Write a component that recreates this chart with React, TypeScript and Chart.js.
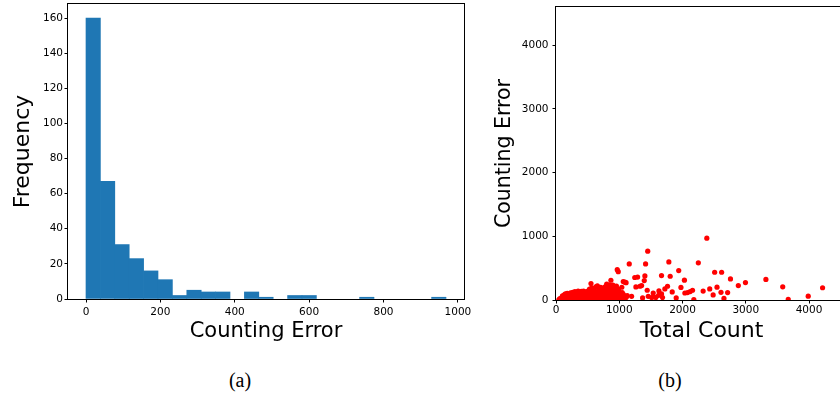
import React, { useEffect, useRef } from "react";
import { Chart, registerables } from "chart.js";

Chart.register(...registerables);

// ---- (a) histogram of counting error: 25 equal-width bins over [0, 968] ----
const HIST_MIN = 0;
const HIST_MAX = 968;
const histCounts = [160, 67, 31, 23, 16, 11, 2, 5, 4, 4, 0, 4, 1, 0, 2, 2, 0, 0, 0, 1, 0, 0, 0, 0, 1];
const histXTicks = [0, 200, 400, 600, 800, 1000];
const histYTicks = [0, 20, 40, 60, 80, 100, 120, 140, 160];

// ---- (b) counting error against total count, one point per image ----
const denseLow: [number, number][] = [
  [45, 4], [58, 18], [66, 6], [74, 27], [83, 11], [91, 36], [99, 3], [108, 21], [116, 45], [124, 8],
  [133, 30], [141, 52], [150, 14], [158, 38], [167, 4], [175, 57], [184, 24], [192, 9], [201, 43], [209, 28],
  [218, 2], [226, 50], [235, 17], [243, 35], [252, 6], [260, 58], [269, 22], [277, 41], [286, 10], [294, 30],
  [303, 52], [311, 3], [320, 26], [328, 45], [337, 13], [345, 33], [354, 55], [362, 7], [371, 20], [379, 48],
  [388, 31], [396, 2], [405, 40], [413, 15], [422, 57], [430, 25], [439, 8], [447, 36], [456, 50], [464, 18],
  [473, 4], [481, 29], [490, 46], [498, 12], [507, 58], [515, 35], [524, 21], [532, 5], [541, 42], [549, 27],
  [558, 54], [566, 10], [575, 33], [583, 48], [592, 3], [600, 22], [609, 40], [617, 15], [626, 56], [634, 28],
  [643, 6], [651, 44], [660, 19], [668, 34], [677, 51], [685, 9], [694, 26], [702, 45], [711, 14], [719, 37],
  [728, 3], [736, 55], [745, 23], [753, 41], [762, 8], [770, 30], [779, 50], [787, 17], [796, 36], [804, 5],
  [813, 24], [821, 47], [830, 12], [838, 32], [847, 54], [855, 20], [864, 6], [872, 39], [881, 26], [889, 50],
  [898, 11], [906, 34], [915, 3], [923, 46], [932, 19], [940, 29], [949, 52], [957, 8], [966, 37], [974, 22],
  [983, 48], [991, 14], [1000, 31], [1010, 6], [1022, 40], [1034, 18], [1046, 28], [1060, 8], [1075, 35], [1090, 14],
];

const denseMid: [number, number][] = [
  [102, 64], [130, 80], [148, 95], [162, 72], [178, 104], [196, 86], [213, 68], [230, 112], [248, 92], [265, 120],
  [282, 78], [299, 130], [316, 98], [333, 66], [350, 140], [367, 104], [384, 82], [401, 135], [418, 112], [435, 140],
  [452, 88], [469, 126], [486, 70], [503, 140], [520, 100], [537, 132], [554, 80], [571, 118], [588, 96], [605, 145],
  [622, 74], [639, 128], [656, 100], [673, 140], [690, 84], [707, 116], [724, 68], [741, 138], [758, 94], [775, 122],
  [792, 76], [809, 146], [826, 102], [843, 132], [860, 86], [877, 150], [894, 110], [911, 70], [928, 138], [945, 96],
  [962, 120], [979, 78], [996, 140], [1013, 100], [1030, 72], [1047, 118], [1064, 88], [1080, 64],
];

const denseHigh: [number, number][] = [
  [530, 170], [566, 190], [598, 176], [630, 205], [654, 222], [684, 182], [705, 200], [735, 176], [760, 196],
  [782, 212], [801, 250], [822, 184], [850, 236], [880, 196], [900, 232], [918, 205], [940, 176], [955, 218],
  [985, 172], [1040, 200], [1063, 290],
];

const sparse: [number, number][] = [
  [2384, 970], [1450, 767], [1784, 598], [2250, 583], [1158, 567], [1416, 567], [968, 476], [984, 445],
  [1940, 462], [2508, 436], [2618, 436], [1405, 378], [1668, 383], [1805, 373], [1245, 353], [1290, 360],
  [2758, 331], [3318, 323], [2030, 312], [1395, 305], [2995, 274], [1090, 280], [1108, 272], [868, 310],
  [553, 258], [2882, 226], [3584, 207], [4214, 192], [1975, 198], [2430, 174], [2545, 202], [2326, 140],
  [2608, 121], [2713, 116], [2484, 80], [3987, 60], [3671, 10], [2655, 25], [2179, 8], [1353, 227],
  [1326, 216], [1263, 205], [1763, 216], [1442, 153], [1721, 174], [1837, 126], [2037, 110], [2079, 116],
  [2121, 132], [2158, 153], [1126, 69], [1195, 58], [1111, 42], [1369, 32], [1537, 110], [1627, 142],
  [1668, 95], [1621, 74], [1547, 47], [1458, 58], [1511, 38], [1579, 38], [1684, 38], [1900, 32],
];

const scatterTicks = [0, 1000, 2000, 3000, 4000];
const SCATTER_MAX = 4600;

const TICK_FONT = { family: "DejaVu Sans", size: 10.5, lineHeight: 1.2 };

// Draws the four spines around the plotting area.
const framePlugin = {
  id: "frame",
  afterDatasetsDraw(chart: any) {
    const { ctx, chartArea: a } = chart;
    ctx.save();
    ctx.strokeStyle = "#000";
    ctx.lineWidth = 1;
    const l = Math.round(a.left) - 0.5;
    const t = Math.round(a.top) - 0.5;
    const r = Math.round(a.right) + 0.5;
    const b = Math.round(a.bottom) + 0.5;
    ctx.strokeRect(l, t, r - l, b - t);
    ctx.restore();
  },
};

const tickGrid = {
  display: true,
  drawOnChartArea: false,
  drawTicks: true,
  tickLength: 3.5,
  tickColor: "#000",
  color: "#000",
  offset: false,
};

function fixedTicks(values: number[]) {
  return (scale: any) => {
    scale.ticks = values.map((v) => ({ value: v }));
  };
}

// Pin an axis box to a fixed thickness and drop the label overhang padding,
// so the plotting area lands exactly where the layout padding puts it.
function fixedBox(size: number) {
  return (s: any) => {
    if (s.isHorizontal()) s.height = size;
    else s.width = size;
    s.paddingTop = 0;
    s.paddingBottom = 0;
    s.paddingLeft = 0;
    s.paddingRight = 0;
  };
}

export default function App() {
  const histRef = useRef<HTMLCanvasElement | null>(null);
  const scatRef = useRef<HTMLCanvasElement | null>(null);

  useEffect(() => {
    Chart.defaults.font.family = "DejaVu Sans";
    Chart.defaults.color = "#000";

    const binWidth = (HIST_MAX - HIST_MIN) / histCounts.length;
    const margin = (HIST_MAX - HIST_MIN) * 0.05;

    const hist = new Chart(histRef.current as HTMLCanvasElement, {
      type: "bar",
      data: {
        datasets: [
          {
            data: histCounts.map((c, i) => ({ x: HIST_MIN + (i + 0.5) * binWidth, y: c === 0 ? null : c })),
            backgroundColor: "#1f77b4",
            borderWidth: 0,
            barPercentage: 1,
            categoryPercentage: 1,
          },
        ],
      },
      options: {
        responsive: false,
        devicePixelRatio: 1,
        animation: false,
        layout: { padding: { top: 4, right: 16, bottom: 0, left: 0 } },
        plugins: { legend: { display: false }, tooltip: { enabled: false } },
        scales: {
          x: {
            type: "linear",
            offset: false,
            min: HIST_MIN - margin,
            max: HIST_MAX + margin,
            afterBuildTicks: fixedTicks(histXTicks),
            afterFit: fixedBox(51),
            grid: tickGrid,
            border: { display: false },
            ticks: { font: TICK_FONT, color: "#000", padding: 3.5, maxRotation: 0, callback: (v: any) => String(v) },
            title: {
              display: true,
              text: "Counting Error",
              color: "#000",
              font: { family: "DejaVu Sans", size: 21, lineHeight: 1.2 },
              padding: { top: 0, bottom: 6 },
            },
          },
          y: {
            type: "linear",
            min: 0,
            max: 168,
            afterBuildTicks: fixedTicks(histYTicks),
            afterFit: fixedBox(68),
            grid: tickGrid,
            border: { display: false },
            ticks: { font: TICK_FONT, color: "#000", padding: 1.5, callback: (v: any) => String(v) },
            title: {
              display: true,
              text: "Frequency",
              color: "#000",
              font: { family: "DejaVu Sans", size: 22, lineHeight: 1.2 },
              padding: { top: 10, bottom: 0 },
            },
          },
        },
      },
      plugins: [framePlugin],
    } as any);

    const points = [...denseLow, ...denseMid, ...denseHigh, ...sparse];
    const scat = new Chart(scatRef.current as HTMLCanvasElement, {
      type: "scatter",
      data: {
        datasets: [
          {
            data: points.map(([x, y]) => ({ x, y })),
            backgroundColor: "#ff0000",
            pointRadius: 2.6,
            pointBorderWidth: 0,
            clip: 0,
          },
        ],
      },
      options: {
        responsive: false,
        devicePixelRatio: 1,
        animation: false,
        layout: { padding: { top: 7, right: 13, bottom: 0, left: 0 } },
        plugins: { legend: { display: false }, tooltip: { enabled: false } },
        scales: {
          x: {
            type: "linear",
            min: 0,
            max: SCATTER_MAX,
            afterBuildTicks: fixedTicks(scatterTicks),
            afterFit: fixedBox(50),
            grid: tickGrid,
            border: { display: false },
            ticks: { font: TICK_FONT, color: "#000", padding: 0, maxRotation: 0, callback: (v: any) => String(v) },
            title: {
              display: true,
              text: "Total Count",
              color: "#000",
              font: { family: "DejaVu Sans", size: 22, lineHeight: 1.2 },
              padding: { top: 0, bottom: 6 },
            },
          },
          y: {
            type: "linear",
            min: 0,
            max: SCATTER_MAX,
            afterBuildTicks: fixedTicks(scatterTicks),
            afterFit: fixedBox(66),
            grid: tickGrid,
            border: { display: false },
            ticks: { font: TICK_FONT, color: "#000", padding: 4, callback: (v: any) => String(v) },
            title: {
              display: true,
              text: "Counting Error",
              color: "#000",
              font: { family: "DejaVu Sans", size: 20.5, lineHeight: 1.2 },
              padding: { top: 2, bottom: 0 },
            },
          },
        },
      },
      plugins: [framePlugin],
    } as any);

    return () => {
      hist.destroy();
      scat.destroy();
    };
  }, []);

  const caption: React.CSSProperties = {
    position: "absolute",
    top: 370,
    width: 80,
    textAlign: "center",
    fontFamily: "'Liberation Serif', 'Times New Roman', serif",
    fontSize: 20,
    lineHeight: "20px",
    color: "#000",
  };

  return (
    <div
      style={{
        position: "fixed",
        left: 0,
        top: 0,
        width: 840,
        height: 396,
        overflow: "hidden",
        background: "#fff",
      }}
    >
      <canvas ref={histRef} width={480} height={350} style={{ position: "absolute", left: 0, top: 0 }} />
      <canvas ref={scatRef} width={370} height={350} style={{ position: "absolute", left: 490, top: 0 }} />
      <div style={{ ...caption, left: 200 }}>(a)</div>
      <div style={{ ...caption, left: 630 }}>(b)</div>
    </div>
  );
}
